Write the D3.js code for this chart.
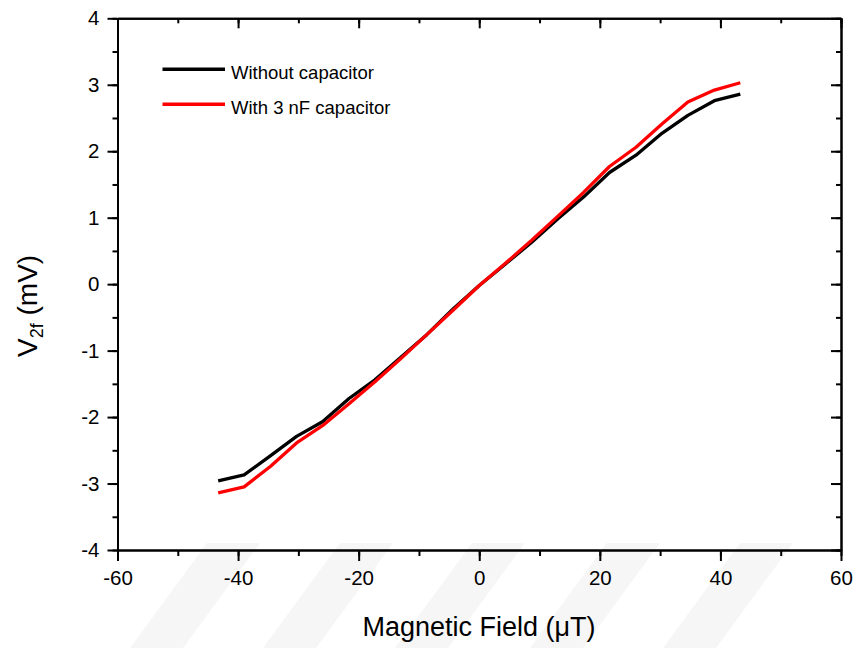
<!DOCTYPE html>
<html>
<head>
<meta charset="utf-8">
<script src="https://cdn.jsdelivr.net/npm/d3@7"></script>
<style>
  html, body { margin: 0; padding: 0; background: #fff; }
  svg { display: block; font-family: "Liberation Sans", Arial, sans-serif; }
</style>
</head>
<body>
<svg id="chart" width="857" height="648"></svg>
<script>
// Magnetic field sweep (µT)
const field = [-43.3, -39.0, -34.6, -30.3, -26.0, -21.6, -17.3, -13.0, -8.7, -4.3, 0,
               4.3, 8.7, 13.0, 17.3, 21.6, 26.0, 30.3, 34.6, 39.0, 43.3];
// Second-harmonic output voltage (mV)
const withoutCap = [-2.96, -2.87, -2.58, -2.29, -2.07, -1.72, -1.44, -1.10, -0.76, -0.37, -0.02,
                    0.30, 0.63, 0.98, 1.31, 1.68, 1.94, 2.27, 2.54, 2.76, 2.86];
const withCap = [-3.14, -3.05, -2.74, -2.39, -2.13, -1.80, -1.47, -1.12, -0.76, -0.39, -0.02,
                 0.31, 0.66, 1.02, 1.38, 1.77, 2.06, 2.41, 2.74, 2.92, 3.03];
const seriesNames = ["Without capacitor", "With 3 nF capacitor"];
const seriesColors = ["#000000", "#ff0000"];
const xTicks = [-60, -40, -20, 0, 20, 40, 60];
const yTicks = [-4, -3, -2, -1, 0, 1, 2, 3, 4];

const svg = d3.select("#chart");
const plotL = 117.5, plotR = 841, plotT = 18.3, plotB = 550;

const x = d3.scaleLinear().domain([-60, 60]).range([plotL, plotR]);
const y = d3.scaleLinear().domain([-4, 4]).range([plotB, plotT]);

// faint diagonal background stripes along the bottom edge
const stripeX = [207, 340, 472, 607, 740];
svg.append("g").selectAll("path").data(stripeX).join("path")
  .attr("d", d => `M${d},543 L${d + 53},543 L${d - 24},648 L${d - 77},648 Z`)
  .attr("fill", "#f6f6f6");

const minorX = d3.range(-60, 61, 10);
const minorY = d3.range(-4, 4.01, 0.5);
const plainNum = d => String(d);   // hyphen-minus, as in the axis labels

function styleAxis(g) {
  g.select(".domain").attr("stroke", "#000").attr("stroke-width", 2);
  g.selectAll(".tick line").attr("stroke", "#000").attr("stroke-width", 2);
  g.selectAll(".tick text").attr("fill", "#000").attr("font-size", 20.5)
    .attr("font-family", "'Liberation Sans', Arial, sans-serif");
}

// bottom axis: minor then major ticks, outward
svg.append("g").attr("transform", `translate(0,${plotB})`)
  .call(d3.axisBottom(x).tickValues(minorX).tickSize(6).tickFormat("").tickSizeOuter(0))
  .call(styleAxis);
svg.append("g").attr("transform", `translate(0,${plotB})`)
  .call(d3.axisBottom(x).tickValues(xTicks).tickSize(11).tickPadding(9).tickSizeOuter(0)
        .tickFormat(plainNum))
  .call(styleAxis);

// left axis
svg.append("g").attr("transform", `translate(${plotL},0)`)
  .call(d3.axisLeft(y).tickValues(minorY).tickSize(5).tickFormat("").tickSizeOuter(0))
  .call(styleAxis);
svg.append("g").attr("transform", `translate(${plotL},0)`)
  .call(d3.axisLeft(y).tickValues(yTicks).tickSize(10).tickPadding(8).tickSizeOuter(0)
        .tickFormat(plainNum))
  .call(styleAxis);

// top axis: inward ticks, no labels
svg.append("g").attr("transform", `translate(0,${plotT})`)
  .call(d3.axisBottom(x).tickValues(minorX).tickSize(5).tickFormat("").tickSizeOuter(0))
  .call(styleAxis);
svg.append("g").attr("transform", `translate(0,${plotT})`)
  .call(d3.axisBottom(x).tickValues(xTicks).tickSize(10).tickFormat("").tickSizeOuter(0))
  .call(styleAxis);

// right axis: inward ticks, no labels
svg.append("g").attr("transform", `translate(${plotR},0)`)
  .call(d3.axisLeft(y).tickValues(minorY).tickSize(5).tickFormat("").tickSizeOuter(0))
  .call(styleAxis);
svg.append("g").attr("transform", `translate(${plotR},0)`)
  .call(d3.axisLeft(y).tickValues(yTicks).tickSize(10).tickFormat("").tickSizeOuter(0))
  .call(styleAxis);

// data lines
const line = d3.line().x(d => x(d[0])).y(d => y(d[1]));
const series = [withoutCap, withCap];
series.forEach((vals, i) => {
  svg.append("path")
    .datum(field.map((f, j) => [f, vals[j]]))
    .attr("d", line)
    .attr("fill", "none")
    .attr("stroke", seriesColors[i])
    .attr("stroke-width", 3.3)
    .attr("stroke-linejoin", "round");
});

// legend
const legendY = [69.3, 104.3];
const lg = svg.append("g");
seriesNames.forEach((name, i) => {
  lg.append("line")
    .attr("x1", 162.5).attr("x2", 225)
    .attr("y1", legendY[i]).attr("y2", legendY[i])
    .attr("stroke", seriesColors[i]).attr("stroke-width", 3.5);
  lg.append("text")
    .attr("x", 231).attr("y", legendY[i] + 10)
    .attr("font-size", 18.5).attr("fill", "#000")
    .text(name);
});

// axis titles
svg.append("text")
  .attr("x", 479).attr("y", 636)
  .attr("text-anchor", "middle")
  .attr("font-size", 27).attr("fill", "#000")
  .text("Magnetic Field (\u03BCT)");

const yt = svg.append("text")
  .attr("transform", "translate(37,357) rotate(-90)")
  .attr("text-anchor", "start")
  .attr("font-size", 28).attr("fill", "#000");
yt.append("tspan").text("V");
yt.append("tspan").attr("font-size", 18).attr("dy", 6).text("2f");
yt.append("tspan").attr("dy", -6).text(" (mV)");
</script>
</body>
</html>
